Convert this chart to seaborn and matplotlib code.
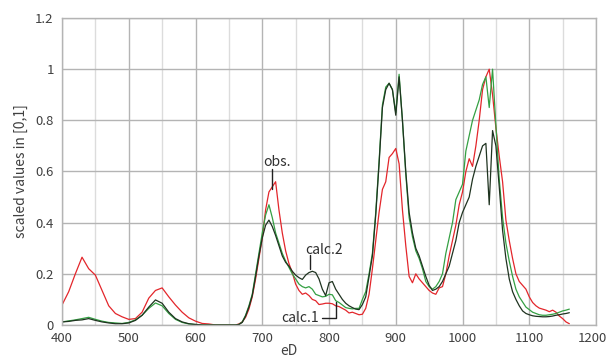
import numpy as np
import matplotlib.pyplot as plt
import matplotlib.ticker as mticker
from matplotlib.transforms import ScaledTranslation
import seaborn as sns
import pandas as pd

# x grid (eD)
ed = list(range(400, 651, 10)) + list(range(655, 1161, 5))

obs = [0.078, 0.13, 0.20, 0.265, 0.22, 0.195, 0.135, 0.075, 0.045, 0.032,
       0.022, 0.025, 0.05, 0.105, 0.135, 0.145, 0.11, 0.078, 0.05, 0.028,
       0.015, 0.006, 0.004, 0.0, 0.0, 0.0,
       0.0, 0.0, 0.004, 0.012, 0.03, 0.062, 0.11, 0.18, 0.26, 0.34,
       0.45, 0.52, 0.54, 0.56, 0.45, 0.36, 0.29, 0.24, 0.205, 0.16,
       0.135, 0.12, 0.125, 0.115, 0.1, 0.095, 0.08, 0.082, 0.085, 0.085,
       0.083, 0.075, 0.072, 0.065, 0.058, 0.047, 0.05, 0.045, 0.04, 0.042,
       0.065, 0.12, 0.22, 0.33, 0.44, 0.53, 0.56, 0.655, 0.67, 0.69,
       0.63, 0.45, 0.31, 0.19, 0.165, 0.2, 0.18, 0.165, 0.15, 0.135,
       0.125, 0.12, 0.145, 0.15, 0.2, 0.27, 0.33, 0.39, 0.47, 0.52,
       0.6, 0.65, 0.62, 0.7, 0.8, 0.92, 0.97, 1.0, 0.9, 0.77,
       0.66, 0.56, 0.41, 0.33, 0.26, 0.2, 0.17, 0.155, 0.14, 0.11,
       0.088, 0.075, 0.066, 0.062, 0.058, 0.052, 0.058, 0.05, 0.035, 0.025,
       0.012, 0.005]

calc1 = [0.012, 0.016, 0.02, 0.025, 0.03, 0.022, 0.015, 0.01, 0.008, 0.006,
         0.01, 0.02, 0.038, 0.065, 0.086, 0.075, 0.045, 0.022, 0.01, 0.004,
         0.002, 0.0, 0.0, 0.0, 0.0, 0.0,
         0.0, 0.0, 0.002, 0.012, 0.038, 0.075, 0.12, 0.2, 0.28, 0.36,
         0.43, 0.47, 0.42, 0.36, 0.32, 0.28, 0.25, 0.225, 0.2, 0.18,
         0.16, 0.15, 0.145, 0.15, 0.14, 0.12, 0.115, 0.11, 0.112, 0.12,
         0.118, 0.095, 0.088, 0.078, 0.068, 0.065, 0.063, 0.065, 0.065, 0.1,
         0.13, 0.2, 0.28, 0.44, 0.64, 0.86, 0.93, 0.945, 0.92, 0.83,
         0.98, 0.8, 0.59, 0.42, 0.345, 0.29, 0.26, 0.22, 0.17, 0.15,
         0.14, 0.15, 0.17, 0.2, 0.28, 0.34, 0.4, 0.49, 0.52, 0.55,
         0.68, 0.74, 0.8, 0.84, 0.88, 0.94, 0.97, 0.85, 1.0, 0.78,
         0.57, 0.42, 0.32, 0.25, 0.19, 0.14, 0.11, 0.09, 0.07, 0.06,
         0.05, 0.045, 0.04, 0.038, 0.038, 0.04, 0.042, 0.045, 0.05, 0.055,
         0.058, 0.062]

calc2 = [0.012, 0.014, 0.018, 0.02, 0.025, 0.018, 0.012, 0.008, 0.005, 0.005,
         0.008, 0.018, 0.038, 0.07, 0.098, 0.085, 0.05, 0.025, 0.012, 0.005,
         0.002, 0.0, 0.0, 0.0, 0.0, 0.0,
         0.0, 0.0, 0.002, 0.01, 0.035, 0.07, 0.115, 0.19, 0.27, 0.34,
         0.39, 0.41, 0.385, 0.35, 0.31, 0.27, 0.245, 0.23, 0.21, 0.195,
         0.185, 0.178, 0.195, 0.205, 0.21, 0.205, 0.18, 0.14, 0.115, 0.165,
         0.17, 0.14, 0.12, 0.1, 0.085, 0.075, 0.068, 0.062, 0.06, 0.08,
         0.11, 0.19, 0.27, 0.43, 0.63, 0.85, 0.92, 0.945, 0.92, 0.82,
         0.97, 0.8, 0.6, 0.44, 0.36, 0.3, 0.27, 0.23, 0.19, 0.155,
         0.135, 0.14, 0.15, 0.17, 0.2, 0.23, 0.28, 0.33, 0.4, 0.44,
         0.47, 0.5, 0.57, 0.62, 0.66, 0.7, 0.71, 0.47, 0.76, 0.7,
         0.54, 0.37, 0.26, 0.18, 0.13, 0.1, 0.075, 0.055, 0.045, 0.04,
         0.036, 0.034, 0.033, 0.032, 0.032, 0.033, 0.035, 0.038, 0.04, 0.043,
         0.045, 0.048]

series = {"obs.": obs, "calc.1": calc1, "calc.2": calc2}
colors = {"obs.": "#e3262b", "calc.1": "#34a043", "calc.2": "#1f3320"}

rows = []
for name, vals in series.items():
    for x, v in zip(ed, vals):
        rows.append([name, x, v])
df = pd.DataFrame(rows, columns=["series", "eD", "value"])

sns.set_style("white")
plt.rcParams['font.family'] = ['Noto Sans CJK JP', 'DejaVu Sans']

fig = plt.figure(figsize=(6.09, 3.58), dpi=100)
ax = fig.add_axes([0.1018, 0.0922, 0.8769, 0.8575])

sns.lineplot(data=df, x="eD", y="value", hue="series", palette=colors,
             hue_order=["obs.", "calc.1", "calc.2"], estimator=None, sort=False,
             linewidth=0.9, legend=False, ax=ax)

ax.set_xlim(400, 1200)
ax.set_ylim(0, 1.2)
ax.xaxis.set_major_locator(mticker.FixedLocator(list(range(400, 1201, 100))))
ax.xaxis.set_minor_locator(mticker.MultipleLocator(50))
ax.yaxis.set_major_locator(mticker.MultipleLocator(0.2))
ax.yaxis.set_major_formatter(mticker.FuncFormatter(lambda v, p: "%g" % round(v, 1)))
ax.grid(True, which="major", color="#b4b4b4", linewidth=1)
ax.grid(True, which="minor", axis="x", color="#dcdcdc", linewidth=1)
ax.set_axisbelow(True)
for s in ax.spines.values():
    s.set_color("#b4b4b4")
    s.set_linewidth(1)
ax.tick_params(which="both", length=0, labelsize=9.5, colors="#404040")
ax.tick_params(axis="x", pad=5)
ax.tick_params(axis="y", pad=6)

ax.set_xlabel("")
fig.text(289 / 609, 1 - 351 / 358, "eD", fontsize=10, color="#404040",
         ha="center", va="center")
ax.set_ylabel("scaled values in [0,1]", fontsize=10, color="#404040", labelpad=5)

# labels with leader lines
tc = "#303030"
ax.text(722, 0.637, "obs.", fontsize=10, color=tc, ha="center", va="center")
ax.plot([714, 714], [0.61, 0.53], color="#202020", lw=1)
ax.text(792, 0.295, "calc.2", fontsize=10, color=tc, ha="center", va="center")
ax.plot([772, 772], [0.272, 0.22], color="#202020", lw=1)
ax.annotate("calc.1", xy=(810, 0.09), xytext=(757, 0.027), fontsize=10, color=tc,
            ha="center", va="center",
            arrowprops=dict(arrowstyle="-", color="#202020", lw=1, shrinkA=0, shrinkB=0,
                            relpos=(1, 0.5),
                            connectionstyle="angle,angleA=0,angleB=90,rad=0"))

# keep the last x tick label inside the figure
fig.canvas.draw()
last = ax.xaxis.get_major_ticks()[-1].label1
last.set_transform(last.get_transform() + ScaledTranslation(-4 / 100, 0, fig.dpi_scale_trans))

plt.savefig("out.png", dpi=100)
